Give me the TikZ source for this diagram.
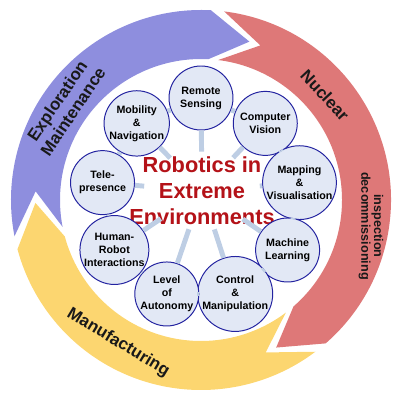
\documentclass[tikz,border=0pt]{standalone}
\usepackage{fontspec}
\setmainfont{Liberation Sans}
\usetikzlibrary{shapes.geometric, positioning}

\definecolor{bandblue}{RGB}{142,142,222}
\definecolor{bandred}{RGB}{222,120,120}
\definecolor{bandyellow}{RGB}{252,214,112}
\definecolor{topicfill}{RGB}{226,232,245}
\definecolor{topicline}{RGB}{35,35,160}
\definecolor{spokeblue}{RGB}{190,206,228}
\definecolor{titlered}{RGB}{180,18,24}

\tikzstyle{topic} = [circle, minimum size=1.6cm, inner sep=0pt, draw=topicline, line width=0.7pt, fill=topicfill, align=center, font=\bfseries\fontsize{7.6}{9.2}\selectfont]
\tikzstyle{hubshape} = [ellipse, minimum width=2.9cm, minimum height=1.95cm, inner sep=0pt, fill=white]
\tikzstyle{link} = [draw=spokeblue, line width=3.5pt]
\tikzstyle{bandlabel} = [align=center, text=black!90, font=\bfseries\fontsize{12}{13.5}\selectfont]

\begin{document}
\begin{tikzpicture}
      \useasboundingbox (-5.025,-5) rectangle (4.975,5);

      % the three arrows round the ring
      \fill[bandblue] (191:4.75) arc[start angle=191, end angle=87, radius=4.75] -- (73:4.14) -- (87:3.525)
            arc[start angle=87, end angle=191, radius=3.525] -- (177:4.14) -- cycle;
      \fill[bandred] (83:4.75) arc[start angle=83, end angle=-49, radius=4.75] -- (-63:4.14) -- (-49:3.525)
            arc[start angle=-49, end angle=83, radius=3.525] -- (69:4.14) -- cycle;
      \fill[bandyellow] (-53:4.75) arc[start angle=-53, end angle=-165, radius=4.75] -- (-179:4.14) -- (-165:3.525)
            arc[start angle=-165, end angle=-53, radius=3.525] -- (-67:4.14) -- cycle;

      \node (fieldexp) [bandlabel, rotate=56] at (-3.4,2.35) {Exploration\\Maintenance};
      \node (fieldnuc) [bandlabel, rotate=-47] at (3.1,2.62) {Nuclear};
      \node (fieldinsp) [bandlabel, rotate=-90, font=\bfseries\fontsize{9}{9}\selectfont] at (4.25,-0.65) {inspection\\decommissioning};
      \node (fieldman) [bandlabel, rotate=-31] at (-2.07,-3.57) {Manufacturing};

      % topics
      \node (hub) [hubshape] at (0.025,0.225) {};
      \node (title) [align=center, text=titlered, font=\bfseries\fontsize{15.5}{18.5}\selectfont] at (hub) {Robotics in\\Extreme\\Environments};

      \node (sensing) [topic] at (90:2.55) {Remote\\Sensing};
      \node (vision) [topic] at (50:2.5) {Computer\\Vision};
      \node (mapping) [topic] at (10:2.5) {Mapping\\\&\\Visualisation};
      \node (learning) [topic] at (-30:2.5) {Machine\\Learning};
      \node (control) [topic] at (-70:2.5) {Control\\\&\\Manipulation};
      \node (autonomy) [topic] at (-110:2.5) {Level\\of\\Autonomy};
      \node (hri) [topic] at (-150:2.5) {Human-\\Robot\\Interactions};
      \node (telepresence) [topic] at (170:2.5) {Tele-\\presence};
      \node (mobility) [topic] at (130:2.5) {Mobility\\\&\\Navigation};

      \draw [link] (hub) -- (sensing);
      \draw [link] (hub) -- (vision);
      \draw [link] (hub) -- (mapping);
      \draw [link] (hub) -- (learning);
      \draw [link] (hub) -- (control);
      \draw [link] (hub) -- (autonomy);
      \draw [link] (hub) -- (hri);
      \draw [link] (hub) -- (telepresence);
      \draw [link] (hub) -- (mobility);

      \draw [link] (sensing) -- (vision);
      \draw [link] (vision) -- (mapping);
      \draw [link] (mapping) -- (learning);
      \draw [link] (learning) -- (control);
      \draw [link] (control) -- (autonomy);
      \draw [link] (autonomy) -- (hri);
      \draw [link] (hri) -- (telepresence);
      \draw [link] (telepresence) -- (mobility);
      \draw [link] (mobility) -- (sensing);
\end{tikzpicture}
\end{document}
